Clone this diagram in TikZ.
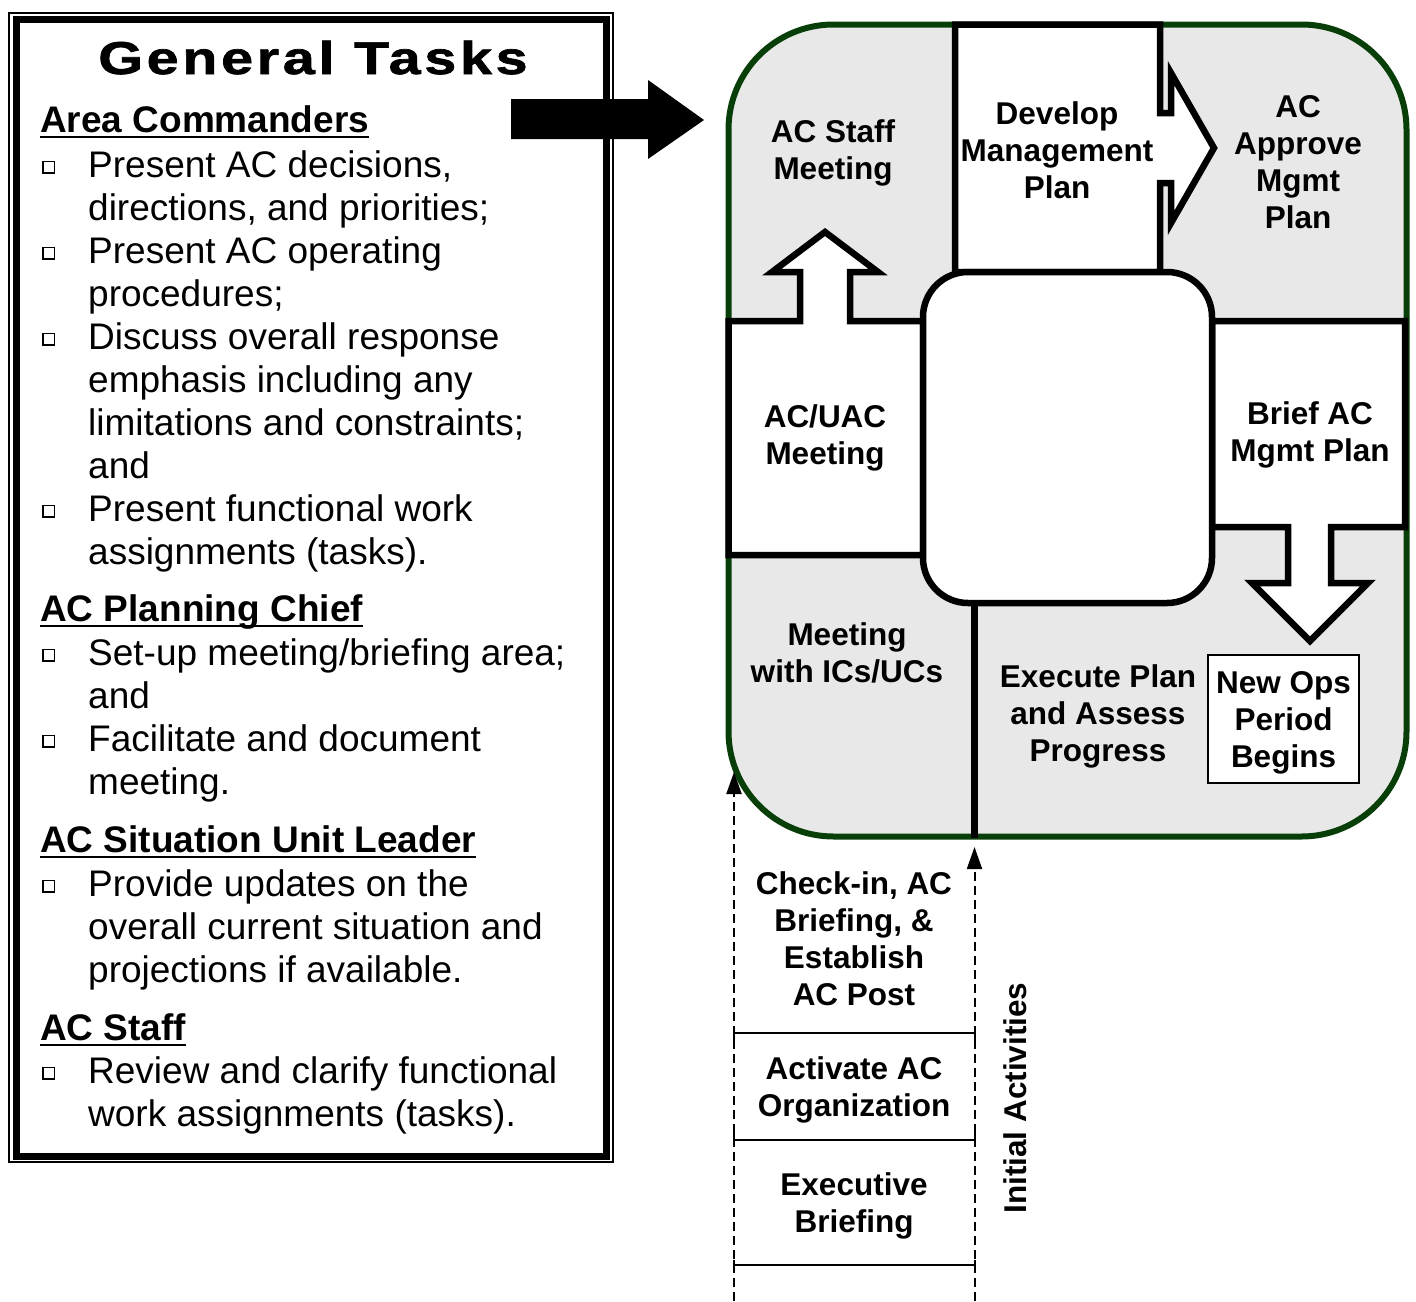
\documentclass[tikz,border=0pt]{standalone}
\usepackage{fontspec}
\setmainfont{Liberation Sans}
\newfontfamily\titlefont[FakeStretch=1.25,LetterSpace=8,BoldFeatures={FakeBold=1.5}]{Liberation Sans}
\usetikzlibrary{arrows.meta}
\definecolor{cgreen}{RGB}{8,62,8}
\definecolor{cgray}{RGB}{232,232,232}
\newcommand\hdline[4]{\node[anchor=base west,inner sep=0,font=\fontsize{37}{43}\selectfont\bfseries] (#1) at (#2,#3) {#4};
  \draw[line width=2.8pt] ([yshift=-5pt]#1.base west) -- ([yshift=-5pt]#1.base east);}
\newcommand\bdline[3]{\node[anchor=base west,inner sep=0,font=\fontsize{37}{43}\selectfont] (#1) at (88,#2) {#3};}
\newcommand\bsq[1]{\draw[line width=1.3pt] (43,{#1-15.5}) rectangle (54.5,{#1-4});}
\begin{document}
\begin{tikzpicture}[x=1pt,y=-1pt,
  blk/.style={line width=6.5pt,line join=miter,draw=black},
  btext/.style={font=\fontsize{31.5}{37}\selectfont\bfseries,align=center,inner sep=0},
  dashline/.style={line width=2pt,dash pattern=on 9pt off 5pt},
  tick/.style={line width=2pt}]
\useasboundingbox (0,0) rectangle (1416,1301);
% ---------- left box ----------
\draw[line width=2pt] (9.2,12.5) rectangle (613,1162);
\draw[line width=7pt] (16.8,19.5) rectangle (606.5,1156.5);
\node[anchor=base,inner sep=0,font=\fontsize{46}{52}\selectfont\titlefont\bfseries] (title) at (313,74) {General Tasks};
\hdline{h1}{40}{132}{Area Commanders}
\bsq{177}\bdline{a1}{177}{Present AC decisions,}
\bdline{a2}{220}{directions, and priorities;}
\bsq{263}\bdline{a3}{263}{Present AC operating}
\bdline{a4}{306}{procedures;}
\bsq{349}\bdline{a5}{349}{Discuss overall response}
\bdline{a6}{392}{emphasis including any}
\bdline{a7}{435}{limitations and constraints;}
\bdline{a8}{478}{and}
\bsq{521}\bdline{a9}{521}{Present functional work}
\bdline{a10}{564}{assignments (tasks).}
\hdline{h2}{40}{621}{AC Planning Chief}
\bsq{665}\bdline{b1}{665}{Set-up meeting/briefing area;}
\bdline{b2}{708}{and}
\bsq{751}\bdline{b3}{751}{Facilitate and document}
\bdline{b4}{794}{meeting.}
\hdline{h3}{40}{852}{AC Situation Unit Leader}
\bsq{896}\bdline{c1}{896}{Provide updates on the}
\bdline{c2}{939}{overall current situation and}
\bdline{c3}{982}{projections if available.}
\hdline{h4}{40}{1040}{AC Staff}
\bsq{1083}\bdline{d1}{1083}{Review and clarify functional}
\bdline{d2}{1126}{work assignments (tasks).}
% ---------- big arrow ----------
\fill (511,99) -- (648,99) -- (648,80) -- (704,120) -- (648,159) -- (648,139) -- (511,139) -- cycle;
% ---------- cycle ----------
\draw[line width=6pt,draw=cgreen,fill=cgray,rounded corners=105pt] (728.5,24.5) rectangle (1406.5,836.5);
\draw[blk,fill=white] (955,24.5) -- (1160,24.5) -- (1160,113) -- (1171,113) -- (1171,73) -- (1214,148) -- (1171,223) -- (1171,183) -- (1160,183) -- (1160,272) -- (955,272) -- cycle;
\draw[blk,fill=white] (923,321) -- (850,321) -- (850,272) -- (878,272) -- (825,232) -- (772,272) -- (800,272) -- (800,321) -- (728.5,321) -- (728.5,555) -- (923,555) -- cycle;
\draw[blk,fill=white] (1212,321) -- (1405,321) -- (1405,527) -- (1331,527) -- (1331,583) -- (1368,583) -- (1310,641) -- (1252,583) -- (1288,583) -- (1288,527) -- (1212,527) -- cycle;
\draw[blk,fill=white,rounded corners=45pt] (923,272) rectangle (1212,603);
\draw[blk] (974.5,603) -- (974.5,838);
\node[btext] (staff) at (833,153) {AC Staff\\Meeting};
\node[btext] (dev) at (1057,150) {Develop\\Management\\Plan};
\node[btext] (appr) at (1298,162) {AC\\Approve\\Mgmt\\Plan};
\node[btext] (uac) at (825,438) {AC/UAC\\Meeting};
\node[btext] (brief) at (1310,435) {Brief AC\\Mgmt Plan};
\node[btext] (ics) at (847,653) {Meeting\\with ICs/UCs};
\node[btext] (exec) at (1098,716) {Execute Plan\\and Assess\\Progress};
\node[draw,line width=2.5pt,fill=white,minimum width=151pt,minimum height=128pt,inner sep=0] (newops) at (1283.5,719) {};
\node[btext] (newopstext) at (1283.5,723) {New Ops\\Period\\Begins};
% ---------- initial activities ----------
\coordinate (lb) at (734,1301);
\coordinate (lt) at (734,772);
\coordinate (rb) at (974.5,1301);
\coordinate (rt) at (974.5,847);
\draw[dashline,-{Triangle[length=22pt,width=15pt]}] (lb) -- (lt);
\draw[dashline,-{Triangle[length=22pt,width=15pt]}] (rb) -- (rt);
\draw[tick] (734,1040) -- (734,1033) -- (974.5,1033) -- (974.5,1040);
\draw[tick] (734,1133) -- (734,1140) -- (974.5,1140) -- (974.5,1133);
\draw[tick] (734,1260) -- (734,1270);
\draw[tick] (974.5,1260) -- (974.5,1270);
\draw[tick] (734,1265) -- (974.5,1265);
\node[btext] (chk) at (854,939) {Check-in, AC\\Briefing, \&\\Establish\\AC Post};
\node[btext] (act) at (854,1090) {Activate AC\\Organization};
\node[btext] (exb) at (854,1206) {Executive\\Briefing};
\node[btext,rotate=90] (init) at (1015,1098) {Initial Activities};
\end{tikzpicture}
\end{document}
